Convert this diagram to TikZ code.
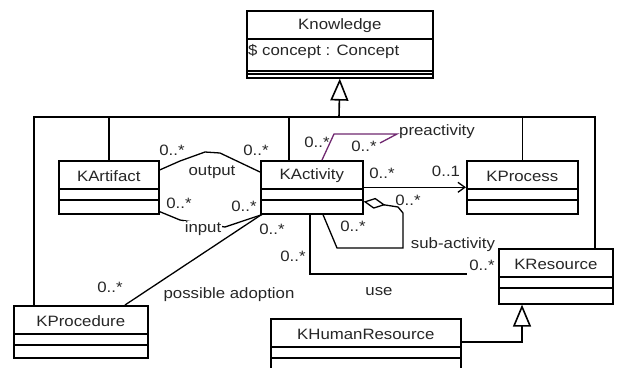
\documentclass[tikz,border=0pt]{standalone}
\usepackage{fontspec}
\setmainfont{Liberation Sans}[FakeStretch=1.12]
\usetikzlibrary{arrows.meta}
\definecolor{linkpurple}{RGB}{112,40,112}
% a UML class box: name compartment, attribute and operation compartments
\newcommand\umlclass[6]{% node name, x, y, width, height, class name
  \node[cls, minimum width=#4pt, minimum height=#5pt] (#1) at (#2,#3) {};
  \draw[sep] ([yshift=-29pt]#1.north west) -- ([yshift=-29pt]#1.north east);
  \draw[sep] ([yshift=-40pt]#1.north west) -- ([yshift=-40pt]#1.north east);
  \node[cname] at ([yshift=-16pt]#1.north) {#6};
}
\begin{document}
\begin{tikzpicture}[x=1pt,y=-1pt,
  font=\fontsize{15}{17}\selectfont,
  cls/.style={draw, line width=1.6pt, fill=white, inner sep=0pt, anchor=north west},
  sep/.style={line width=1.6pt},
  cname/.style={inner sep=0pt, text=black!85},
  lbl/.style={inner sep=0pt, text=black!85},
  gen/.style={line width=1.6pt},
  assoc/.style={line width=1.3pt},
  genhead/.style={-{Triangle[open, length=22pt, width=18pt, line width=1.6pt]}},
]
\clip (0,0) rectangle (617,367);
\fill[white] (0,0) rectangle (617,367);

% superclass
\node[cls, minimum width=186pt, minimum height=67pt] (know) at (246,10) {};
\draw[sep] ([yshift=-29pt]know.north west) -- ([yshift=-29pt]know.north east);
\draw[sep] ([yshift=-61pt]know.north west) -- ([yshift=-61pt]know.north east);
\draw[sep] ([yshift=-64pt]know.north west) -- ([yshift=-64pt]know.north east);
\node[cname] at ([yshift=-16pt]know.north) {Knowledge};
\node[cname, anchor=west] at ([xshift=2pt,yshift=-42pt]know.north west) {\$ concept : Concept};

% subclasses
\umlclass{kart}{58}{160}{100}{53}{KArtifact}
\umlclass{kact}{260}{160}{102}{53}{KActivity}
\umlclass{kproc}{466}{160}{111}{53}{KProcess}
\umlclass{kres}{498}{248}{114}{55}{KResource}
\umlclass{kprocd}{13}{305}{134}{52}{KProcedure}
\umlclass{khr}{270}{318}{190}{60}{KHumanResource}

% generalisation tree
\coordinate (gj) at (339,117);
\draw[gen] (gj) -| ([xshift=21pt]kprocd.north west);
\draw[gen] (gj) -| (kart.north);
\draw[gen] (gj) -| ([xshift=29pt]kact.north west);
\draw[gen] (gj) -| (kproc.north);
\draw[gen] (gj) -| ([xshift=97pt]kres.north west);
\draw[gen, genhead] (gj) -- (know.south);
\draw[gen, genhead] ([yshift=-24pt]khr.north east) -| ([xshift=24pt]kres.south west);

% output
\draw[assoc] ([yshift=-10pt]kart.north east) -- (180,161) -- (205,152) -- (220,153)
  -- ([yshift=-12pt]kact.north west);
\node[lbl] at (172,150) {0..*};
\node[lbl] at (256,150) {0..*};
\node[lbl] at (212,172) {output};

% input
\draw[assoc] ([yshift=3pt]kart.south east) -- (180,220) -- (225,227)
  -- ([xshift=2pt]kact.south west);
\node[lbl, fill=white, inner sep=1pt] at (203,229) {input};
\node[lbl] at (179,203) {0..*};
\node[lbl] at (244,206) {0..*};

% possible adoption
\draw[assoc] ([xshift=3pt,yshift=1pt]kact.south west) -- ([xshift=112pt]kprocd.north west);
\node[lbl] at (272,229) {0..*};
\node[lbl] at (110,287) {0..*};
\node[lbl] at (229,295) {possible adoption};

% navigable link to the process
\draw[assoc, -{Straight Barb[length=7pt, width=10pt, line width=1.3pt]}] (kact.east) -- (kproc.west);
\node[lbl] at (382,173) {0..*};
\node[lbl] at (446,171) {0..1};

% sub-activity aggregation
\draw[assoc, {Diamond[open, length=22pt, width=11pt, line width=1.3pt]}-]
  ([yshift=13pt]kact.south east) -- (398,207) -- (403,213) -- (403,248) -- (337,248)
  -- ([xshift=63pt]kact.south west);
\node[lbl] at (408,200) {0..*};
\node[lbl] at (353,226) {0..*};
\node[lbl] at (453,245) {sub-activity};

% use
\coordinate (useend) at (467,274);
\draw[assoc] ([xshift=50pt]kact.south west) |- (useend);
\node[lbl] at (293,256) {0..*};
\node[lbl] at (482,265) {0..*};
\node[lbl] at (379,292) {use};

% preactivity
\coordinate (preend) at (380,143);
\draw[assoc, draw=linkpurple] ([xshift=62pt]kact.north west) -- (334,134) -- (397,134) -- (preend);
\node[lbl] at (317,142) {0..*};
\node[lbl] at (364,146) {0..*};
\node[lbl] at (437,132) {preactivity};
\end{tikzpicture}
\end{document}
